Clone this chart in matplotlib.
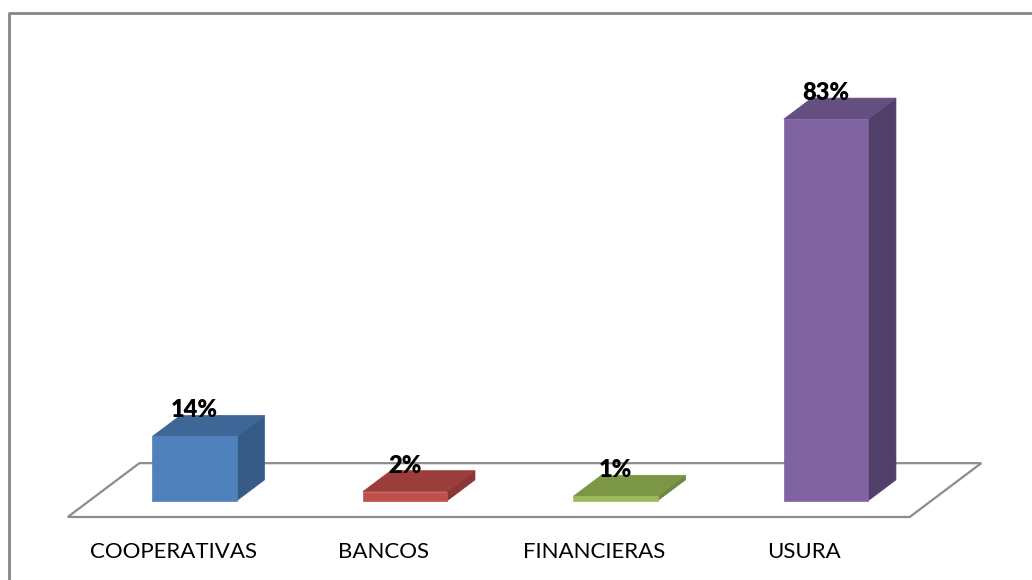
import matplotlib
matplotlib.use("Agg")
import matplotlib.pyplot as plt
from matplotlib.patches import Polygon
from matplotlib.lines import Line2D

categories = ["COOPERATIVAS", "BANCOS", "FINANCIERAS", "USURA"]
percent = [14, 2, 1, 83]
front_colors = ["#4F81BD", "#C0504D", "#9BBB59", "#8064A2"]
top_colors = ["#3E6696", "#9A3D3B", "#7B9746", "#654F81"]
side_colors = ["#375B87", "#8A3634", "#6E883F", "#523F6A"]

# fake 3d: going back in depth shifts right (category units) and up (percent units)
DX = 0.34
DY = 11.7
BAR_W = 0.40
D0, D1 = 0.30, 0.69   # bar front / back depth inside the floor


def proj(x, d, h):
    return (x + d * DX, h + d * DY)


fig = plt.figure(figsize=(10.32, 5.80), dpi=100)
ax = fig.add_axes([0, 0, 1, 1])
ax.set_xlim(-0.822, 4.081)
ax.set_ylim(-13.7, 112.4)
ax.axis('off')

# floor
n = len(categories)
floor = [proj(-0.5, 0, 0), proj(n - 0.5, 0, 0), proj(n - 0.5, 1, 0), proj(-0.5, 1, 0)]
ax.add_patch(Polygon(floor, closed=True, facecolor='white', edgecolor='#8C8C8C', lw=1.6, zorder=1))

for i, (v, fc, tc, sc) in enumerate(zip(percent, front_colors, top_colors, side_colors)):
    x0 = i - BAR_W / 2
    x1 = i + BAR_W / 2
    front = [proj(x0, D0, 0), proj(x1, D0, 0), proj(x1, D0, v), proj(x0, D0, v)]
    top = [proj(x0, D0, v), proj(x1, D0, v), proj(x1, D1, v), proj(x0, D1, v)]
    side = [proj(x1, D0, 0), proj(x1, D1, 0), proj(x1, D1, v), proj(x1, D0, v)]
    ax.add_patch(Polygon(side, closed=True, facecolor=sc, edgecolor=sc, lw=0.5, zorder=2))
    ax.add_patch(Polygon(top, closed=True, facecolor=tc, edgecolor=tc, lw=0.5, zorder=2))
    ax.add_patch(Polygon(front, closed=True, facecolor=fc, edgecolor=fc, lw=0.5, zorder=3))
    lx, ly = proj(i, D0, v)
    ax.text(lx, v + D1 * DY + 1.1, f"{v}%", ha='center', va='center',
            fontsize=17, fontweight='heavy', family='Lato', zorder=5)
    ax.text(i, -7.6, categories[i], ha='center', va='center', fontsize=16, family='Lato')

# chart frame (left and top edges visible)
fig.add_artist(Line2D([9 / 1032, 9 / 1032, 1.0], [0.0, 1 - 13 / 580, 1 - 13 / 580],
                      transform=fig.transFigure, color='#868686', lw=2))

fig.savefig("out.png", dpi=100)
